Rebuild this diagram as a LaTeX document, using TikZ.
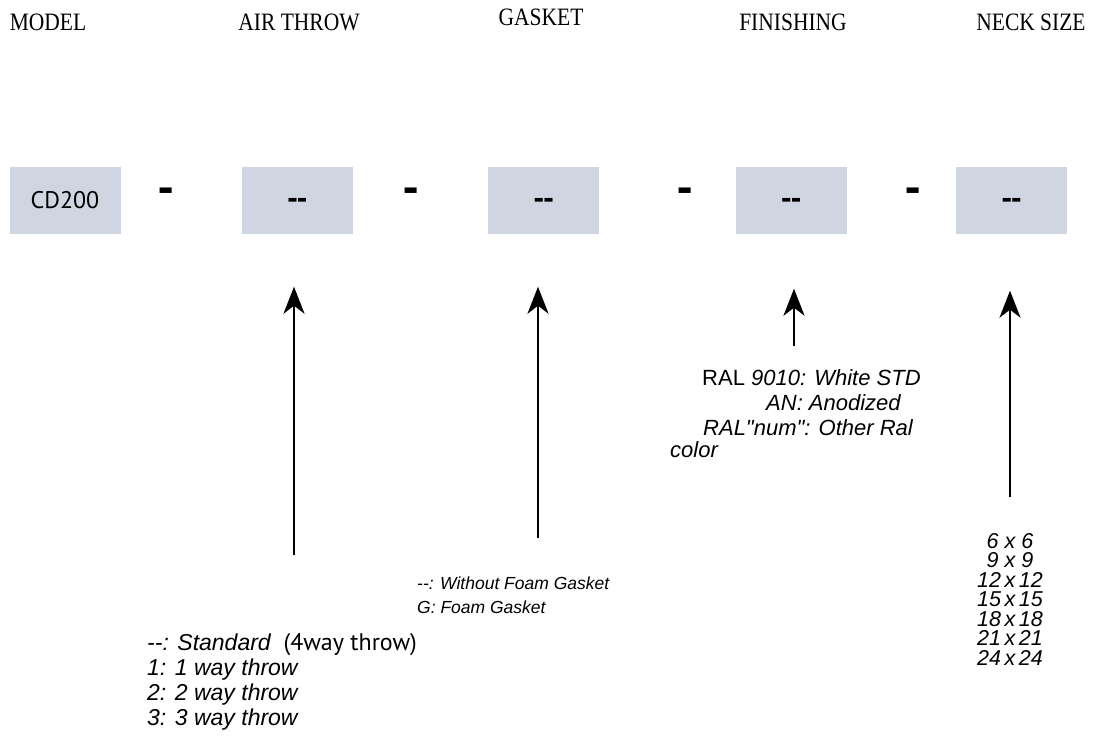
\documentclass[tikz,border=0pt]{standalone}
\usepackage{fontspec}
\setmainfont{Liberation Serif}
\newfontfamily\titlefont{Liberation Serif}[FakeStretch=0.86]
\newfontfamily\helv{Liberation Sans}
\newfontfamily\myr{PT Sans}
\usetikzlibrary{arrows.meta,positioning}
\definecolor{boxfill}{RGB}{207,214,225}

\begin{document}
\begin{tikzpicture}[
                x=1pt, y=-1pt,
                >={Stealth[length=27pt,width=21pt,inset=8pt]},
                head/.style={inner sep=0pt, font=\titlefont\fontsize{25}{28}\selectfont},
                codebox/.style={fill=boxfill, minimum width=111pt, minimum height=67pt, inner sep=0pt, font=\myr\fontsize{24}{28}\selectfont},
                sep/.style={inner sep=0pt, font=\myr\bfseries\fontsize{48}{48}\selectfont},
                dashes/.style={inner sep=0pt, font=\myr\bfseries\fontsize{32}{32}\selectfont},
                opt/.style={inner sep=0pt, anchor=west, align=left, font=\helv\itshape\fontsize{22}{25}\selectfont},
                line/.style={->, line width=2.5pt},
            ]
            \useasboundingbox (0,0) rectangle (1104,744);

            % ----- Headings -----
            \node[head] (modelhead)  at (48,22)   {MODEL};
            \node[head] (throwhead)  at (299,22)  {AIR THROW};
            \node[head] (gaskethead) at (541,17)  {GASKET};
            \node[head] (finishhead) at (793,22)  {FINISHING};
            \node[head] (neckhead)   at (1031,22) {NECK SIZE};

            % ----- Code boxes -----
            \node[codebox] (model) at (65,200) {CD200};
            \node[codebox, right=121pt of model]  (throw)  {};
            \node[codebox, right=135pt of throw]  (gasket) {};
            \node[codebox, right=136pt of gasket] (finish) {};
            \node[codebox, right=109pt of finish] (neck)   {};

            \node[dashes] at ([yshift=-4pt]throw.center)  {-{}-};
            \node[dashes] at ([yshift=-4pt]gasket.center) {-{}-};
            \node[dashes] at ([yshift=-4pt]finish.center) {-{}-};
            \node[dashes] at ([yshift=-4pt]neck.center)   {-{}-};

            % separators
            \node[sep] (sep1) at (166,196) {-};
            \node[sep] (sep2) at (411,196) {-};
            \node[sep] (sep3) at (685,196) {-};
            \node[sep] (sep4) at (913,196) {-};

            % ----- Option lists -----
            \node[opt, font=\helv\itshape\fontsize{23}{25}\selectfont] (throwlist) at (147,682) {-{}-: Standard\ \ {\myr\upshape\fontsize{24}{25}\selectfont (4way throw)}\\
                1: 1 way throw\\
                2: 2 way throw\\
                3: 3 way throw};

            \node[opt, font=\helv\itshape\fontsize{17.5}{24}\selectfont] (gasketlist) at (417,595) {-{}-: Without Foam Gasket\\G: Foam Gasket};

            \node[opt] (fin1) at (702,378) {{\upshape RAL} 9010: White STD};
            \node[opt] (fin2) at (766,403) {AN: Anodized};
            \node[opt] (fin3) at (703,428) {RAL"num": Other Ral};
            \node[opt] (fin4) at (670,450) {color};

            \node[opt, anchor=center, align=center, font=\helv\itshape\fontsize{21.5}{19.5}\selectfont] (necklist) at (1010,599)
                {6 x 6\\9 x 9\\12\,x\,12\\15\,x\,15\\18\,x\,18\\21\,x\,21\\24\,x\,24};

            % ----- Arrows -----
            \coordinate (throwtail)  at (294,555);
            \coordinate (gaskettail) at (538,538);
            \coordinate (finishtail) at (794,346);
            \coordinate (necktail)   at (1010,497);

            \draw[line, shorten >=53pt] (throwtail)  -- (throwtail |- throw.south);
            \draw[line, shorten >=53pt] (gaskettail) -- (gaskettail |- gasket.south);
            \draw[line, shorten >=55pt] (finishtail) -- (finishtail |- finish.south);
            \draw[line, shorten >=57pt] (necktail)   -- (necktail |- neck.south);
\end{tikzpicture}
\end{document}
